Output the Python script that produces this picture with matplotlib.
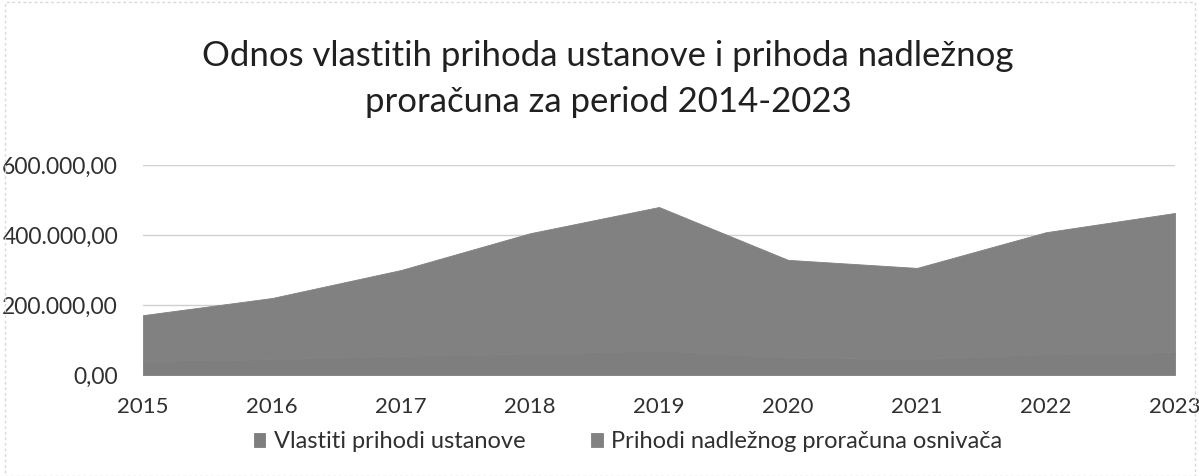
import matplotlib
matplotlib.use("Agg")
import matplotlib.pyplot as plt
from matplotlib.patches import Rectangle

years = [2015, 2016, 2017, 2018, 2019, 2020, 2021, 2022, 2023]
vlastiti = [40000, 45000, 55000, 60000, 70000, 50000, 45000, 60000, 65000]
nadlezni = [131000, 175000, 245000, 345000, 410000, 279000, 261000, 348000, 398000]
yticks = [0, 200000, 400000, 600000]
ytick_labels = ["0,00", "200.000,00", "400.000,00", "600.000,00"]
title = "Odnos vlastitih prihoda ustanove i prihoda nadležnog\nproračuna za period 2014-2023"
labels = ["Vlastiti prihodi ustanove", "Prihodi nadležnog proračuna osnivača"]

plt.rcParams['font.family'] = ['Lato', 'DejaVu Sans']

fig = plt.figure(figsize=(11.99, 4.76), dpi=100)
ax = fig.add_axes([143/1199, 1-375/476, (1175-143)/1199, (375-165)/476])

colors = ["#7e7e7e", "#818181"]
polys = ax.stackplot(years, vlastiti, nadlezni, colors=colors, labels=labels, zorder=2)
for p, c in zip(polys, colors):
    p.set_edgecolor(c)
    p.set_linewidth(0.6)

ax.set_xlim(years[0], years[-1])
ax.set_ylim(0, 600000)
ax.set_yticks(yticks)
ax.set_yticklabels(ytick_labels, fontsize=16.5, color="#303030")
ax.set_xticks(years)
ax.set_xticklabels([str(y) for y in years], fontsize=16, color="#303030")
ax.tick_params(axis='y', length=0, pad=18)
ax.tick_params(axis='x', length=0, pad=16)
for s in ax.spines.values():
    s.set_visible(False)
ax.grid(axis='y', color="#d0d0d0", linewidth=1, zorder=0)
ax.set_axisbelow(True)

fig.text(608/1199, 1-79/476, title, ha='center', va='center', fontsize=25, color="#202020", linespacing=1.55)

leg = ax.legend(loc='center', bbox_to_anchor=((628-143)/1032, (375-442)/(375-165)), ncol=2, frameon=False,
                fontsize=17, handlelength=0.5, handleheight=0.5, handletextpad=0.35, columnspacing=2.8)
for t in leg.get_texts():
    t.set_color("#303030")

fig.patches.append(Rectangle((5/1199, 0.0), 1190/1199, 0.995, transform=fig.transFigure,
                             fill=False, edgecolor="#d8d8d8", linewidth=1, linestyle=(0, (2, 2))))

fig.savefig("out.png", dpi=100)
